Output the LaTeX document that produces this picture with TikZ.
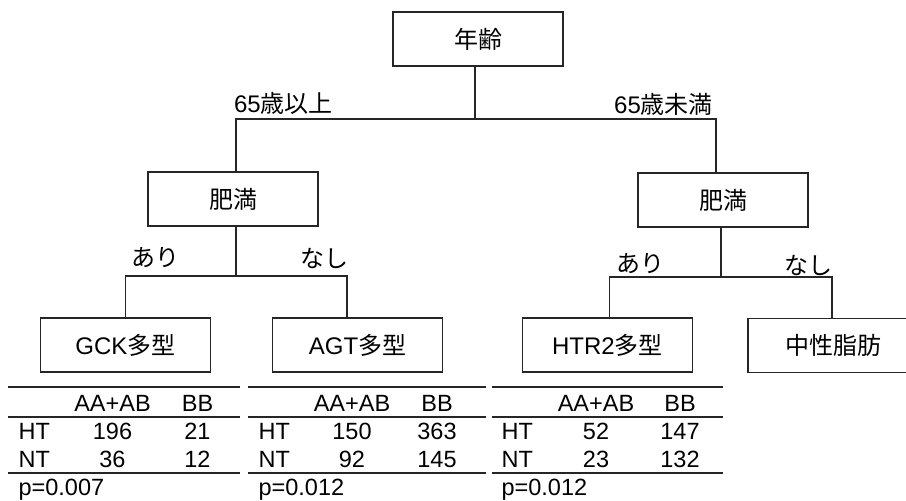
\documentclass[tikz,border=0pt]{standalone}
\usepackage{fontspec}
\setmainfont{Liberation Sans}
\newfontfamily\jp{Noto Sans CJK JP}
\begin{document}
\begin{tikzpicture}[x=1pt,y=-1pt, line width=1.1pt, draw=black!85,
  box/.style={draw, minimum width=170pt, minimum height=54pt, inner sep=0pt, font=\fontsize{24}{24}\selectfont},
  lbl/.style={inner sep=0pt, font=\fontsize{24}{24}\selectfont},
  cell/.style={inner sep=0pt, anchor=base, font=\fontsize{23.5}{23.5}\selectfont},
  tabrule/.style={line width=1.3pt}]
\useasboundingbox (0,0) rectangle (906,501);
\fill[white] (0,0) rectangle (906,501);
% boxes
\node[box] (age) at (478,39) {\jp 年齢};
\node[box] (obL) at (233,199) {\jp 肥満};
\node[box] (obR) at (723,200) {\jp 肥満};
\node[box] (gck) at (125.5,345) {GCK{\jp 多型}};
\node[box] (agt) at (357.5,345) {AGT{\jp 多型}};
\node[box] (htr) at (607.5,345) {HTR2{\jp 多型}};
\node[box] (tg) at (833,345.5) {\jp 中性脂肪};
% connectors
\coordinate (b1) at (0,119);
\coordinate (b2) at (0,276);
\coordinate (b3) at (0,277);
\draw ([xshift=-3pt]age.south) -- ([xshift=-3pt]age.south |- b1);
\draw ([xshift=3pt]obL.north) |- ([xshift=-7pt]obR.north |- b1) -- ([xshift=-7pt]obR.north);
\draw ([xshift=3pt]obL.south) -- ([xshift=3pt]obL.south |- b2);
\draw (gck.north) |- ([xshift=-10.5pt]agt.north |- b2) -- ([xshift=-10.5pt]agt.north);
\draw ([xshift=-2pt]obR.south) -- ([xshift=-2pt]obR.south |- b3);
\draw ([xshift=2pt]htr.north) |- ([xshift=-1pt]tg.north |- b3) -- ([xshift=-1pt]tg.north);
% labels
\node[lbl] (l1) at (283.5,103) {65{\jp 歳以上}};
\node[lbl] (l2) at (663.5,104) {65{\jp 歳未満}};
\node[lbl] (l3) at (155,258) {\jp あり};
\node[lbl] (l4) at (324,258) {\jp なし};
\node[lbl] (l5) at (640.5,264) {\jp あり};
\node[lbl] (l6) at (808.5,265) {\jp なし};
% tables
\foreach \n/\ra/\rb/\hx/\ca/\cb/\va/\vb/\vc/\vd/\pv in {g/8/240/18/112.5/197.5/196/21/36/12/0.007, a/248/486/258/352/437/150/363/92/145/0.012, h/492/723/501/596/680/52/147/23/132/0.012}{
  \draw[tabrule] (\ra,387) -- (\rb,387);
  \draw[tabrule] (\ra,417) -- (\rb,417);
  \draw[tabrule] (\ra,473) -- (\rb,473);
  \node[cell] (\n-h1) at (\ca,411) {AA+AB};
  \node[cell] (\n-h2) at (\cb,411) {BB};
  \node[cell, anchor=base west] (\n-r1) at (\hx,439) {HT};
  \node[cell] (\n-a) at (\ca,439) {\va};
  \node[cell] (\n-b) at (\cb,439) {\vb};
  \node[cell, anchor=base west] (\n-r2) at (\hx,467) {NT};
  \node[cell] (\n-c) at (\ca,467) {\vc};
  \node[cell] (\n-d) at (\cb,467) {\vd};
  \node[cell, anchor=base west] (\n-p) at (\hx,495) {p=\pv};
}
\end{tikzpicture}
\end{document}
